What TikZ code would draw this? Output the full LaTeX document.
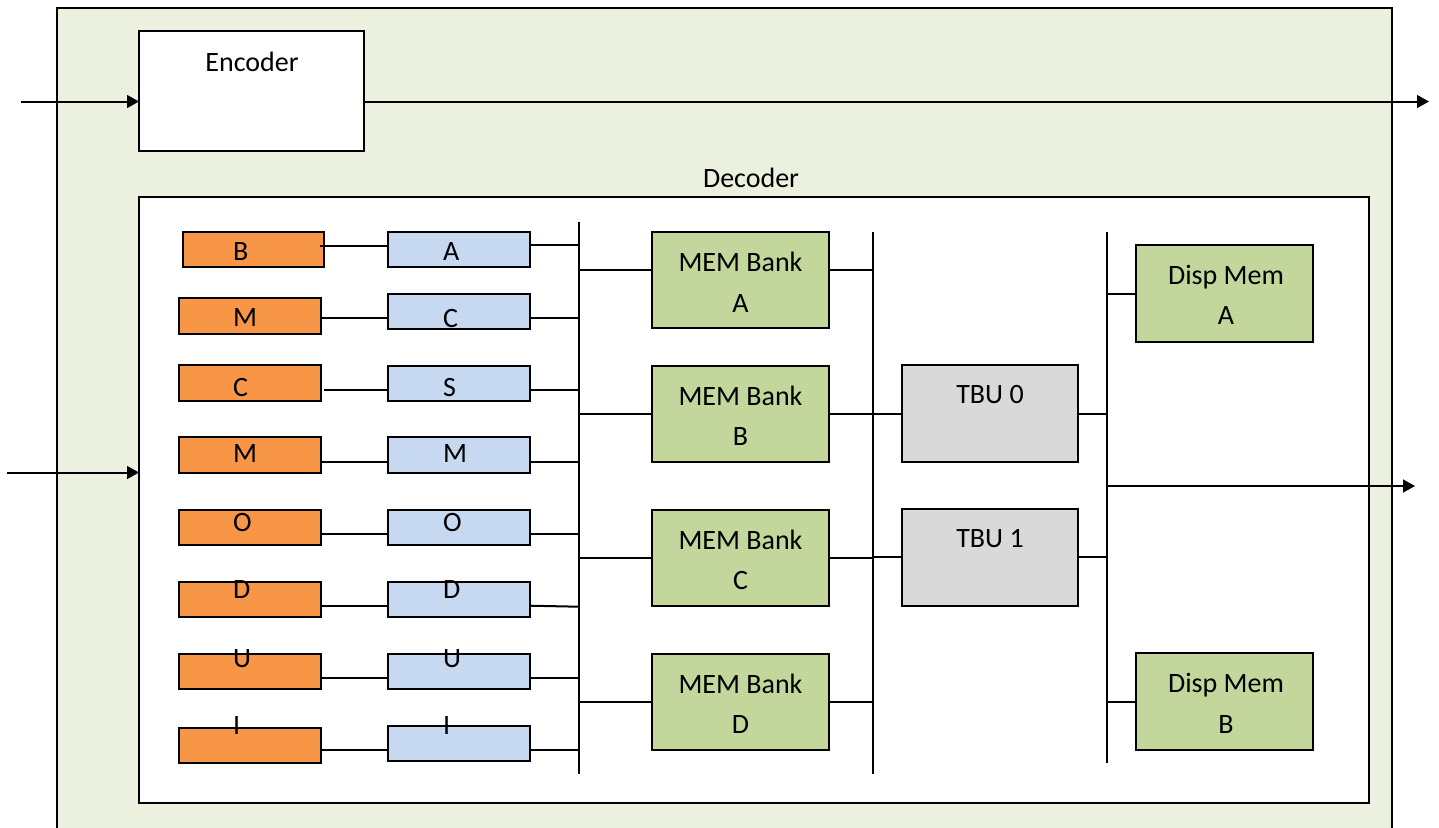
\documentclass[tikz,border=0pt]{standalone}
\usepackage{fontspec}
\setmainfont{Carlito}
\usetikzlibrary{arrows.meta}

\definecolor{chipbg}{HTML}{EBF1DE}
\definecolor{regorange}{HTML}{F79646}
\definecolor{regblue}{HTML}{C6D9F1}
\definecolor{memgreen}{HTML}{C3D69B}
\definecolor{tbugray}{HTML}{D9D9D9}

\tikzset{
  blk/.style={draw=black, line width=1pt, inner sep=0pt, outer sep=0pt},
  orangebox/.style={blk, fill=regorange},
  bluebox/.style={blk, fill=regblue},
  membox/.style={blk, fill=memgreen},
  tbubox/.style={blk, fill=tbugray},
  whitebox/.style={blk, fill=white},
  txt/.style={font=\fontsize{14}{17}\selectfont, inner sep=0pt, outer sep=0pt, anchor=base},
  txtw/.style={txt, anchor=base west},
  wire/.style={line width=1pt},
  arr/.style={line width=1pt, -{Triangle[length=6pt,width=6.4pt]}},
}

% box given by its corners (x1,y1) and (x2,y2) in picture units
\newcommand\placebox[6]{%
  \pgfmathsetmacro\pbw{(#5-#3)*0.5}%
  \pgfmathsetmacro\pbh{(#6-#4)*0.5}%
  \node[#2, minimum width=\pbw pt, minimum height=\pbh pt] (#1) at ({(#3+#5)/2},{(#4+#6)/2}) {};}

\begin{document}
\begin{tikzpicture}[x=0.5pt,y=-0.5pt]
\useasboundingbox (0,0) rectangle (1439,827);

% chip outline, running past the lower edge
\begin{scope}
  \clip (0,0) rectangle (1439,827);
  \placebox{chip}{blk, fill=chipbg}{57}{8}{1392}{870}
\end{scope}

% encoder
\placebox{enc}{whitebox}{139}{31}{364}{151}
\node[txt] (encl) at (252,71) {Encoder};
\coordinate (encin) at (21,101.5);
\coordinate (encout) at (1429,101.5);
\draw[arr] (encin) -- (enc.west |- encin);
\draw[arr] (enc.east |- encout) -- (encout);

% decoder
\node[txt] (decl) at (751,187.5) {Decoder};
\placebox{dec}{whitebox}{139}{197}{1369}{803}
\coordinate (decin) at (7,472.5);
\draw[arr] (decin) -- (dec.west |- decin);

% input registers
\placebox{o1}{orangebox}{183}{232}{324}{267}
\placebox{o2}{orangebox}{179}{298}{321}{334}
\placebox{o3}{orangebox}{179}{365}{321}{401}
\placebox{o4}{orangebox}{179}{437}{321}{473}
\placebox{o5}{orangebox}{179}{510}{321}{545}
\placebox{o6}{orangebox}{179}{582}{321}{617}
\placebox{o7}{orangebox}{179}{654}{321}{689}
\placebox{o8}{orangebox}{179}{728}{321}{763}

\placebox{b1}{bluebox}{388}{232}{530}{267}
\placebox{b2}{bluebox}{388}{294}{530}{329}
\placebox{b3}{bluebox}{388}{366}{530}{401}
\placebox{b4}{bluebox}{388}{437}{530}{473}
\placebox{b5}{bluebox}{388}{510}{530}{545}
\placebox{b6}{bluebox}{388}{582}{530}{617}
\placebox{b7}{bluebox}{388}{654}{530}{689}
\placebox{b8}{bluebox}{388}{726}{530}{761}

\node[txtw] (to1) at (233,260) {B};
\node[txtw] (to2) at (233,326.7) {M};
\node[txtw] (to3) at (233,396) {C};
\node[txtw] (to4) at (233,462.7) {M};
\node[txtw] (to5) at (233,531.7) {O};
\node[txtw] (to6) at (233,598) {D};
\node[txtw] (to7) at (233,667) {U};
\node[txtw] (to8) at (233,734.3) {I};

\node[txtw] (tb1) at (443,260) {A};
\node[txtw] (tb2) at (443,327) {C};
\node[txtw] (tb3) at (443,396) {S};
\node[txtw] (tb4) at (443,462.7) {M};
\node[txtw] (tb5) at (443,531.7) {O};
\node[txtw] (tb6) at (443,598) {D};
\node[txtw] (tb7) at (443,667) {U};
\node[txtw] (tb8) at (443,734.3) {I};

% bus lines
\coordinate (busAt) at (579,221.7);  \coordinate (busAb) at (579,774.3);
\coordinate (busBt) at (873,231.7);  \coordinate (busBb) at (873,774.3);
\coordinate (busCt) at (1107,231.7); \coordinate (busCb) at (1107,763.3);
\draw[wire] (busAt) -- (busAb);
\draw[wire] (busBt) -- (busBb);
\draw[wire] (busCt) -- (busCb);

% register pairs
\draw[wire] (o1.east |- 0,245.7) ++(-4,0) -- (b1.west |- 0,245.7);
\draw[wire] (o2.east |- 0,317.7) -- (b2.west |- 0,317.7);
\draw[wire] (o3.east |- 0,390) ++(3,0) -- (b3.west |- 0,390);
\draw[wire] (o4.east |- 0,461.7) -- (b4.west |- 0,461.7);
\draw[wire] (o5.east |- 0,534) -- (b5.west |- 0,534);
\draw[wire] (o6.east |- 0,605.7) -- (b6.west |- 0,605.7);
\draw[wire] (o7.east |- 0,677.7) -- (b7.west |- 0,677.7);
\draw[wire] (o8.east |- 0,750) -- (b8.west |- 0,750);

\draw[wire] (b1.east |- 0,245) -- (busAt |- 0,245);
\draw[wire] (b2.east |- 0,317.7) -- (busAt |- 0,317.7);
\draw[wire] (b3.east |- 0,390) -- (busAt |- 0,390);
\draw[wire] (b4.east |- 0,461.7) -- (busAt |- 0,461.7);
\draw[wire] (b5.east |- 0,534) -- (busAt |- 0,534);
\draw[wire] (b6.east |- 0,605.7) -- (busAt |- 0,606.7);
\draw[wire] (b7.east |- 0,677.7) -- (busAt |- 0,677.7);
\draw[wire] (b8.east |- 0,750) -- (busAt |- 0,750);

% memory banks
\placebox{mA}{membox}{652}{232}{829}{328}
\placebox{mB}{membox}{652}{366}{829}{462}
\placebox{mC}{membox}{652}{510}{829}{606}
\placebox{mD}{membox}{652}{654}{829}{750}
\node[txt] (mA1) at (740.5,271) {MEM Bank};
\node[txt] (mA2) at (740.5,312.7) {A};
\node[txt] (mB1) at (740.5,405) {MEM Bank};
\node[txt] (mB2) at (740.5,445) {B};
\node[txt] (mC1) at (740.5,549) {MEM Bank};
\node[txt] (mC2) at (740.5,589) {C};
\node[txt] (mD1) at (740.5,693) {MEM Bank};
\node[txt] (mD2) at (740.5,733) {D};

\draw[wire] (busAt |- 0,270) -- (mA.west |- 0,270);
\draw[wire] (busAt |- 0,414) -- (mB.west |- 0,414);
\draw[wire] (busAt |- 0,557.7) -- (mC.west |- 0,557.7);
\draw[wire] (busAt |- 0,701.7) -- (mD.west |- 0,701.7);
\draw[wire] (mA.east |- 0,270) -- (busBt |- 0,270);
\draw[wire] (mB.east |- 0,414) -- (busBt |- 0,414);
\draw[wire] (mC.east |- 0,558) -- (busBt |- 0,558);
\draw[wire] (mD.east |- 0,702) -- (busBt |- 0,702);

% traceback units
\placebox{t0}{tbubox}{902}{364.7}{1078}{462}
\placebox{t1}{tbubox}{902}{508.7}{1078}{606.3}
\node[txt] (t0l) at (990,403.3) {TBU 0};
\node[txt] (t1l) at (990,547.7) {TBU 1};
\draw[wire] (busBt |- 0,414) -- (t0.west |- 0,414);
\draw[wire] (busBt |- 0,557.3) -- (t1.west |- 0,557.3);
\draw[wire] (t0.east |- 0,414) -- (busCt |- 0,414);
\draw[wire] (t1.east |- 0,557.3) -- (busCt |- 0,557.3);

% display memories
\placebox{dA}{membox}{1136}{245}{1312.7}{341.7}
\placebox{dB}{membox}{1136}{653}{1313}{750}
\node[txt] (dA1) at (1226,284) {Disp Mem};
\node[txt] (dA2) at (1226,324.3) {A};
\node[txt] (dB1) at (1226,692) {Disp Mem};
\node[txt] (dB2) at (1226,733.3) {B};
\draw[wire] (busCt |- 0,294) -- (dA.west |- 0,294);
\draw[wire] (busCt |- 0,701.7) -- (dB.west |- 0,701.7);

% decoded output
\coordinate (decout) at (1415,486);
\draw[arr] (busCt |- decout) -- (decout);
\end{tikzpicture}
\end{document}
